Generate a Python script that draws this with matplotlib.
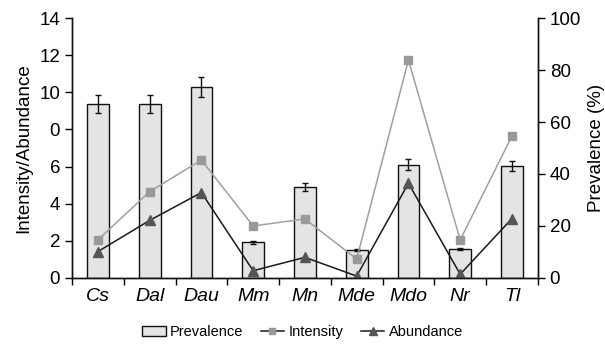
import numpy as np
import matplotlib.pyplot as plt
from matplotlib.lines import Line2D
from matplotlib.patches import Patch

plt.rcParams['font.family'] = ['Liberation Sans', 'DejaVu Sans']

# Datos
especies = ['Cs', 'Dal', 'Dau', 'Mm', 'Mn', 'Mde', 'Mdo', 'Nr', 'Tl']
prevalencia = [66.9, 66.9, 73.5, 13.8, 35.0, 10.6, 43.6, 11.0, 43.1]
prev_err = [3.4, 3.4, 3.8, 0.6, 1.5, 0.4, 2.0, 0.4, 2.0]
intensidad = [2.05, 4.65, 6.35, 2.8, 3.18, 1.02, 11.74, 2.05, 7.65]
abundancia = [1.42, 3.1, 4.6, 0.39, 1.11, 0.1, 5.1, 0.2, 3.2]

x = np.arange(len(especies))

fig = plt.figure(figsize=(6.05, 3.47), dpi=100)
ax = fig.add_axes([0.119, 0.199, 0.77, 0.749])
ax2 = ax.twinx()

# Barras (prevalencia) en el eje de atras, eje a la derecha
ax.bar(x, prevalencia, width=0.42, color='#e4e4e4', edgecolor='#111111',
       linewidth=1.0, yerr=prev_err, capsize=2.5,
       error_kw=dict(ecolor='#111111', elinewidth=1.0, capthick=1.0))
ax.set_ylim(0, 100)
ax.set_yticks([0, 20, 40, 60, 80, 100])
ax.yaxis.tick_right()
ax.yaxis.set_label_position('right')
ax.set_ylabel('Prevalence (%)', fontsize=13.5, labelpad=5)

# Lineas en el eje de delante, eje a la izquierda
ax2.plot(x, intensidad, color='#a0a0a0', lw=1.1, marker='s', ms=6,
         mfc='#999999', mec='#999999')
ax2.plot(x, abundancia, color='#1a1a1a', lw=1.1, marker='^', ms=6.5,
         mfc='#555555', mec='#555555')
ax2.set_ylim(0, 14)
ax2.set_yticks([0, 2, 4, 6, 8, 10, 12, 14])
ax2.set_yticklabels(['0', '2', '4', '6', '0', '10', '12', '14'])
ax2.yaxis.tick_left()
ax2.yaxis.set_label_position('left')
ax2.set_ylabel('Intensity/Abundance', fontsize=13.5, labelpad=5)

ax.set_xlim(-0.5, len(especies) - 0.5)
ax.set_xticks(x)
ax.set_xticklabels(especies, style='italic', fontsize=14)
ax.set_xticks(np.arange(-0.5, len(especies)), minor=True)
ax.tick_params(axis='x', which='major', length=0, pad=7)
ax.tick_params(axis='x', which='minor', length=5, direction='out', width=1)

for a in (ax, ax2):
    a.spines['top'].set_visible(False)
    for s in ('left', 'right', 'bottom'):
        a.spines[s].set_linewidth(1.0)
        a.spines[s].set_color('#111111')
    a.tick_params(axis='y', labelsize=13.5, length=5, width=1)

handles = [
    Patch(facecolor='#e4e4e4', edgecolor='#111111', label='Prevalence'),
    Line2D([], [], color='#1a1a1a', lw=1.1, marker='s', ms=5,
           mfc='#999999', mec='#999999', label='Intensity'),
    Line2D([], [], color='#1a1a1a', lw=1.1, marker='^', ms=5.5,
           mfc='#555555', mec='#555555', label='Abundance'),
]
fig.legend(handles=handles, loc='lower center', ncol=3, frameon=False,
           bbox_to_anchor=(0.5, -0.015), fontsize=10.5, handlelength=1.6,
           handletextpad=0.3, columnspacing=1.2)

fig.savefig('out.png', dpi=100)
